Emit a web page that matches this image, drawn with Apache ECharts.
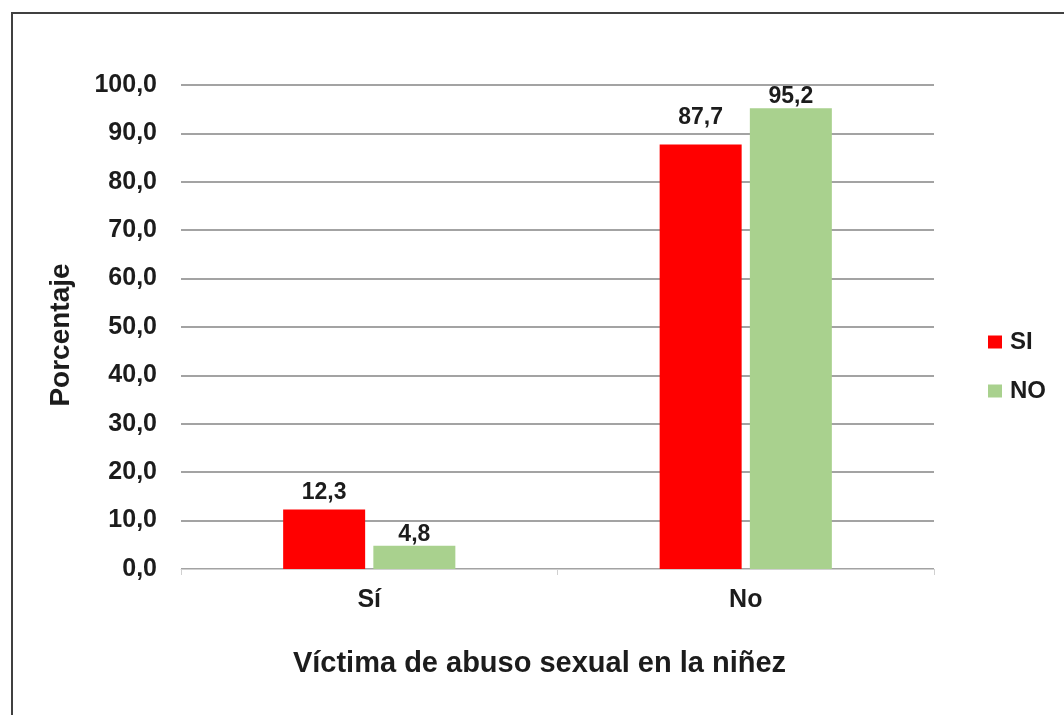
<!DOCTYPE html>
<html>
<head>
<meta charset="utf-8">
<script src="https://cdn.jsdelivr.net/npm/echarts@6/dist/echarts.min.js"></script>
<style>
    html, body { margin: 0; padding: 0; background: #fff; }
    #frame {
        position: absolute; left: 11px; top: 12px;
        width: 1100px; height: 760px;
        border: 2px solid #404040;
        box-sizing: border-box;
    }
    #chart { position: absolute; left: 0; top: 0; width: 1064px; height: 715px; }
</style>
</head>
<body>
<div id="frame"></div>
<div id="chart"></div>
<script>
var categories = ['Sí', 'No'];
var seriesNames = ['SI', 'NO'];
var valuesSI = [12.3, 87.7];
var valuesNO = [4.8, 95.2];
var colors = ['#ff0000', '#a9d18e'];
// gap between bar top and its label, per point (labels sit unevenly in the original)
var labelGapSI = [5, 15];
var labelGapNO = [0, 0];

var font = 'Liberation Sans, Arial, sans-serif';
var txt = '#1c1c1c';
var chart = echarts.init(document.getElementById('chart'));

function fmt(v) { return v.toFixed(1).replace('.', ','); }

function makeSeries(name, values, gaps, color) {
    return {
        name: name,
        type: 'bar',
        data: values.map(function (v, i) {
            return { value: v, label: { distance: gaps[i] } };
        }),
        barWidth: 82,
        barGap: '10%',
        itemStyle: { color: color },
        label: {
            show: true,
            position: 'top',
            fontFamily: font,
            fontWeight: 'bold',
            fontSize: 23,
            color: txt,
            formatter: function (p) { return fmt(p.value); }
        }
    };
}

chart.setOption({
    backgroundColor: 'transparent',
    animation: false,
    grid: { left: 181, right: 130, top: 85, bottom: 146, containLabel: false },
    legend: {
        data: seriesNames,
        orient: 'vertical',
        left: 983,
        top: 325,
        itemWidth: 14,
        itemHeight: 13,
        itemGap: 25,
        icon: 'rect',
        textStyle: { fontFamily: font, fontWeight: 'bold', fontSize: 24, color: txt, padding: [0, 0, 0, 3] }
    },
    xAxis: {
        type: 'category',
        data: categories,
        name: 'Víctima de abuso sexual en la niñez',
        nameLocation: 'middle',
        nameGap: 80,
        nameTextStyle: { fontFamily: font, fontWeight: 'bold', fontSize: 29, color: txt, padding: [0, 36, 0, 0] },
        axisLine: { lineStyle: { color: '#d0d0d0', width: 1 } },
        axisTick: { show: true, length: 6, lineStyle: { color: '#d0d0d0' } },
        axisLabel: { margin: 19, fontFamily: font, fontWeight: 'bold', fontSize: 25, color: txt }
    },
    yAxis: {
        type: 'value',
        min: 0,
        max: 100,
        interval: 10,
        name: 'Porcentaje',
        nameLocation: 'middle',
        nameGap: 106,
        nameRotate: 90,
        nameTextStyle: { fontFamily: font, fontWeight: 'bold', fontSize: 28, color: txt, padding: [0, 16, 0, 0] },
        axisLine: { show: false },
        axisTick: { show: false },
        splitLine: { lineStyle: { color: '#858585', width: 1.5 } },
        axisLabel: {
            margin: 24,
            fontFamily: font,
            fontWeight: 'bold',
            fontSize: 25,
            color: txt,
            formatter: function (v) { return fmt(v); }
        }
    },
    series: [
        makeSeries(seriesNames[0], valuesSI, labelGapSI, colors[0]),
        makeSeries(seriesNames[1], valuesNO, labelGapNO, colors[1])
    ]
});
</script>
</body>
</html>
